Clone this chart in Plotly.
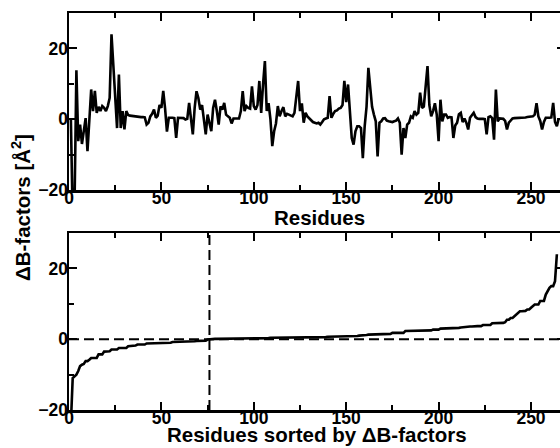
import plotly.graph_objects as go

# ---- data ----
residues = list(range(1, 266))
delta_b = [
    0.3, -28.0, -24.0, 13.8, -6.2, -1.5, -7.0, -2.5, 0.3, -9.0,
    0.5, 8.4, 2.3, 8.0, 1.8, 3.5, 2.3, 3.7, 3.2, 2.3,
    3.7, 6.0, 24.0, 15.0, 3.2, -2.5, 12.6, -2.5, 2.3, -2.9,
    2.3, 1.2, 1.0, 0.9, 0.8, 0.8, 0.7, 0.7, 0.6, 0.6,
    0.5, -1.5, -1.0, 0.8, 1.5, 2.7, 0.4, 1.0, 4.0, 3.2,
    8.0, 3.0, -3.5, 0.4, 0.5, 0.4, 0.3, -5.3, 0.4, 0.3,
    0.2, 0.3, -0.1, 0.1, 4.6, 0.5, -4.3, 3.2, 7.9, 6.0,
    2.7, 4.0, 0.4, -4.3, 1.3, -1.0, -3.4, 3.2, 5.5, 2.3,
    -1.5, 3.6, 2.7, 4.6, 1.3, 0.8, 0.4, -1.2, 0.2, 0.2,
    0.3, 0.2, 2.3, 7.9, 2.3, 3.7, 3.2, 3.0, 9.3, 3.7,
    2.7, 4.0, 10.8, 1.8, 9.8, 16.4, 2.3, 4.5, 0.0, -7.6,
    -3.4, -1.2, 3.7, 0.8, 2.3, 3.4, 0.8, 1.5, 1.3, 1.0,
    0.8, 1.8, 7.0, 10.8, 2.3, 4.5, -1.0, 1.8, 0.8, 0.2,
    -0.5, -0.8, -1.0, -1.2, -1.0, -1.5, -0.8, 0.0, 0.2, 0.4,
    6.5, 0.4, 1.5, 2.3, 2.5, 3.0, 3.2, 4.0, 10.8, 4.8,
    9.8, 3.3, -5.3, -7.2, -3.4, -2.0, -2.0, -2.5, -11.0, -2.0,
    3.5, 14.5, 8.9, 3.5, 1.3, -0.6, -10.5, -1.0, -0.6, 0.2,
    0.3, -0.4, -0.6, -0.8, -0.8, -0.6, -0.4, 0.2, -1.0, -10.0,
    -2.5, -5.3, -1.5, -1.0, 0.8, 0.4, 2.3, 1.3, 1.8, 7.5,
    3.2, 3.6, 9.8, 15.0, 4.0, 0.8, 2.3, 4.5, 1.3, -6.2,
    5.5, -0.6, 1.3, 1.3, 0.4, 0.6, 0.5, -5.3, -1.8, -1.0,
    1.4, 1.8, -0.8, 0.2, -1.0, -2.9, 0.4, 1.0, 1.8, 0.6,
    0.2, 0.1, 0.2, 0.1, 0.0, -4.3, 0.6, 0.8, 0.3, -5.8,
    8.4, -0.6, 0.2, 0.2, 0.1, -0.5, -2.9, -1.0, -0.5, 0.2,
    0.3, 0.3, 0.4, 0.4, 0.5, 0.5, 0.5, 0.6, 0.6, 0.7,
    0.8, 1.3, 4.5, 0.8, -0.5, -2.9, -0.8, 0.4, 0.3, 0.4,
    0.5, 4.6, -0.8, -2.0, 0.2,
]
sorted_b = sorted(delta_b)
ranks = list(range(len(sorted_b)))
n_negative = sum(1 for v in delta_b if v < 0)

x_range = [0, 268.4]
y_range = [-20, 30]
x_tickvals = [0, 50, 100, 150, 200, 250]
x_minor_tickvals = [25, 75, 125, 175, 225]
y_tickvals = [-20, 0, 20]
y_minor_tickvals = [-10, 10]

x_title_top = "Residues"
x_title_bottom = "Residues sorted by \u0394B-factors"
y_title = "\u0394B-factors [\u00c5<sup>2</sup>]"

# ---- figure ----
# The figure is a little wider than the 560 px window: as in the reference,
# the right-hand frame of both panels lies just outside the visible area.
W, H = 568, 448
FONT = "Liberation Sans"
line_style = dict(color="black", width=2.6)

fig = go.Figure()
fig.add_trace(go.Scatter(x=residues, y=delta_b, mode="lines", line=line_style,
                         xaxis="x", yaxis="y", showlegend=False))
fig.add_trace(go.Scatter(x=ranks, y=sorted_b, mode="lines", line=line_style,
                         xaxis="x2", yaxis="y2", showlegend=False))

tickfont = dict(family=FONT, size=17.5, color="black", weight="bold")

def xaxis_cfg(anchor):
    return dict(domain=[69 / W, 565 / W], anchor=anchor, range=x_range, automargin=False,
                tickmode="array", tickvals=x_tickvals,
                ticks="inside", ticklen=8, tickwidth=2, tickcolor="black",
                minor=dict(tickmode="array", tickvals=x_minor_tickvals,
                           ticks="inside", ticklen=5, tickwidth=2, tickcolor="black"),
                showline=True, linewidth=2.5, linecolor="black", mirror="ticks",
                showgrid=False, zeroline=False, tickfont=tickfont,
                ticklabeloverflow="allow", ticklabelshift=0,
                ticklabelstandoff=-10)

def yaxis_cfg(anchor, top_px, bottom_px):
    return dict(domain=[1 - bottom_px / H, 1 - top_px / H], anchor=anchor, range=y_range,
                automargin=False,
                tickmode="array", tickvals=y_tickvals,
                ticks="inside", ticklen=8, tickwidth=2, tickcolor="black",
                minor=dict(tickmode="array", tickvals=y_minor_tickvals,
                           ticks="inside", ticklen=5, tickwidth=2, tickcolor="black"),
                showline=True, linewidth=2.5, linecolor="black", mirror="ticks",
                showgrid=False, zeroline=False, tickfont=tickfont,
                ticklabelstandoff=-5)

titlefont = dict(family=FONT, size=20.5, color="black", weight="bold")

fig.update_layout(
    width=W, height=H,
    margin=dict(l=0, r=0, t=0, b=0),
    paper_bgcolor="white", plot_bgcolor="white",
    hovermode=False,
    xaxis=xaxis_cfg("y"),
    yaxis=yaxis_cfg("x", 13, 190),
    xaxis2=xaxis_cfg("y2"),
    yaxis2=yaxis_cfg("x2", 233, 410),
    shapes=[
        dict(type="line", xref="x2 domain", x0=0, x1=1, yref="y2", y0=0, y1=0,
             line=dict(color="black", width=2, dash="10px,5px")),
        dict(type="line", xref="x2", x0=n_negative, x1=n_negative,
             yref="y2 domain", y0=0, y1=1,
             line=dict(color="black", width=2, dash="10px,5px")),
    ],
    annotations=[
        dict(text=x_title_top, xref="paper", yref="paper", x=319 / W, y=1 - 217.5 / H,
             xanchor="center", yanchor="middle", showarrow=False, font=titlefont),
        dict(text=x_title_bottom, xref="paper", yref="paper", x=317 / W, y=1 - 434 / H,
             xanchor="center", yanchor="middle", showarrow=False, font=titlefont),
        dict(text=y_title, xref="paper", yref="paper", x=21.5 / W, y=1 - 207.5 / H,
             xanchor="center", yanchor="middle", showarrow=False, textangle=-90,
             font=titlefont),
    ],
)

fig.write_html(
    "out.html",
    config={"displayModeBar": False, "staticPlot": True},
    post_script=(
        "document.documentElement.style.margin='0';"
        "document.documentElement.style.overflow='hidden';"
        "document.body.style.margin='0';"
        "document.body.style.overflow='hidden';"
    ),
)
